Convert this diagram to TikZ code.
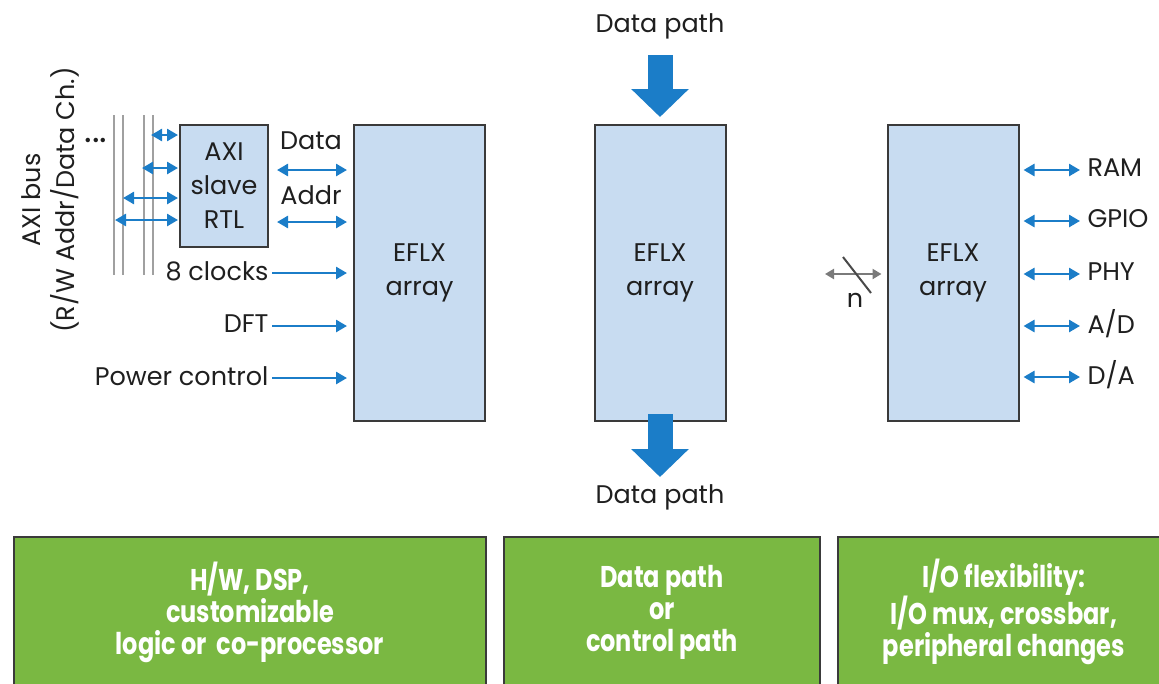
\documentclass[tikz,border=0pt]{standalone}
\usepackage{fontspec}
\setmainfont{Poppins}
\newfontfamily\greenfont[FakeStretch=0.8]{Poppins}
\usetikzlibrary{arrows.meta}
\definecolor{arrowblue}{HTML}{1B7DC8}
\definecolor{boxfill}{HTML}{C8DCF1}
\definecolor{boxline}{HTML}{3A3A3A}
\definecolor{greenfill}{HTML}{7AB842}
\definecolor{busgray}{HTML}{A0A0A0}
\definecolor{ngray}{HTML}{7A7A7A}
\newcommand{\mainsz}{\fontsize{25.5}{34}\selectfont}
\newcommand{\greensz}{\greenfont\bfseries\fontsize{30}{32}\selectfont}
\tikzset{
  every node/.style={font=\mainsz, text=black!88},
  blockbox/.style={draw=boxline, fill=boxfill, line width=2pt, align=center, inner sep=0pt},
  eflx/.style={blockbox, minimum width=131pt, minimum height=296pt},
  greenbox/.style={draw=boxline, fill=greenfill, line width=2.2pt, align=center, inner sep=0pt,
     text=white, font=\greensz, minimum height=150pt},
  bibar/.style={draw=arrowblue, line width=2.6pt, {Triangle[length=11pt,width=12pt]}-{Triangle[length=11pt,width=12pt]}},
  inbar/.style={draw=arrowblue, line width=2.6pt, -{Triangle[length=11pt,width=12pt]}},
  fatarrow/.style={draw=arrowblue, line width=25pt, -{Triangle[length=28pt,width=56pt]}},
  busline/.style={draw=busgray, line width=2pt},
  narrow/.style={draw=ngray, line width=2.4pt, {Triangle[length=9pt,width=10pt]}-{Triangle[length=9pt,width=10pt]}},
}
\begin{document}
\begin{tikzpicture}[x=1pt,y=-1pt]
\useasboundingbox (0,0) rectangle (1159,683);

% ---------- blocks ----------
\node[eflx] (e1) at (419.5,273) {EFLX\\array};
\node[eflx] (e2) at (660,273) {EFLX\\array};
\node[eflx] (e3) at (953,273) {EFLX\\array};
\node[blockbox, minimum width=88pt, minimum height=122pt] (axi) at (224,186) {AXI\\slave\\RTL};

% ---------- AXI bus ----------
\coordinate (b1t) at (114,115); \coordinate (b1b) at (114,275);
\coordinate (b2t) at (123,115); \coordinate (b2b) at (123,275);
\coordinate (b3t) at (144,115); \coordinate (b3b) at (144,275);
\coordinate (b4t) at (153,115); \coordinate (b4b) at (153,275);
\draw[busline] (b1t) -- (b1b);
\draw[busline] (b2t) -- (b2b);
\draw[busline] (b3t) -- (b3b);
\draw[busline] (b4t) -- (b4b);
\node[anchor=base, font=\fontsize{36}{36}\selectfont] (dots) at (96,142) {...};
\node[rotate=90, align=center] (axilabel) at (50,200) {AXI bus\\(R/W Addr/Data Ch.)};

\coordinate (ba1) at (151,135);
\coordinate (ba2) at (142,168);
\coordinate (ba3) at (123,198);
\coordinate (ba4) at (115,220);
\draw[bibar, shorten >=1pt] (ba1) -- (ba1 -| axi.west);
\draw[bibar, shorten >=1pt] (ba2) -- (ba2 -| axi.west);
\draw[bibar, shorten >=1pt] (ba3) -- (ba3 -| axi.west);
\draw[bibar, shorten >=1pt] (ba4) -- (ba4 -| axi.west);

% ---------- inputs to first EFLX ----------
\coordinate (dA) at (277,170);
\coordinate (aA) at (277,222);
\draw[bibar, shorten >=6pt] (dA) -- (dA -| e1.west);
\draw[bibar, shorten >=6pt] (aA) -- (aA -| e1.west);
\node (datalbl) at (311,141) {Data};
\node (addrlbl) at (311,195) {Addr};

\node[anchor=east] (clk) at (272,271) {8 clocks};
\node[anchor=east] (dft) at (272,324) {DFT};
\node[anchor=east] (pwr) at (272,376) {Power control};
\draw[inbar, shorten >=6pt] (clk.east |- 0,273) -- (e1.west |- 0,273);
\draw[inbar, shorten >=6pt] (dft.east |- 0,326) -- (e1.west |- 0,326);
\draw[inbar, shorten >=6pt] (pwr.east |- 0,378) -- (e1.west |- 0,378);

% ---------- data path ----------
\node (dptop) at (660,26) {Data path};
\coordinate (dpin) at (660,55);
\draw[fatarrow, shorten >=7pt] (dpin) -- (e2.north);
\node (dpbot) at (660,497) {Data path};
\coordinate (dpout) at (660,477);
\draw[fatarrow, shorten <=-8pt] (e2.south) -- (dpout);

% ---------- I/O of third EFLX ----------
\foreach \lbl/\yy [count=\i] in {RAM/170, GPIO/221, PHY/274, A\slash D/326, D\slash A/377}{
  \node[anchor=west] (io\i) at (1084,\yy-2) {\lbl};
  \draw[bibar, shorten <=4pt, shorten >=4pt] (e3.east |- 0,\yy) -- (io\i.west |- 0,\yy);
}
\coordinate (nL) at (825,274);
\draw[narrow, shorten >=5pt] (nL) -- (nL -| e3.west);
\coordinate (s1) at (843,257); \coordinate (s2) at (871,293);
\draw[draw=ngray!60!black, line width=2pt] (s1) -- (s2);
\node (nlbl) at (855,300) {n};

% ---------- green boxes ----------
\node[greenbox, minimum width=472pt] (g1) at (250,612) {H/W, DSP,\\customizable\\logic or\ \ co-processor};
\node[greenbox, minimum width=316pt] (g2) at (662,612) {Data path\\or\\control path};
\node[greenbox, minimum width=332pt] (g3) at (1004,612) {I/O flexibility:\\I/O mux, crossbar,\\peripheral changes};
\end{tikzpicture}
\end{document}
